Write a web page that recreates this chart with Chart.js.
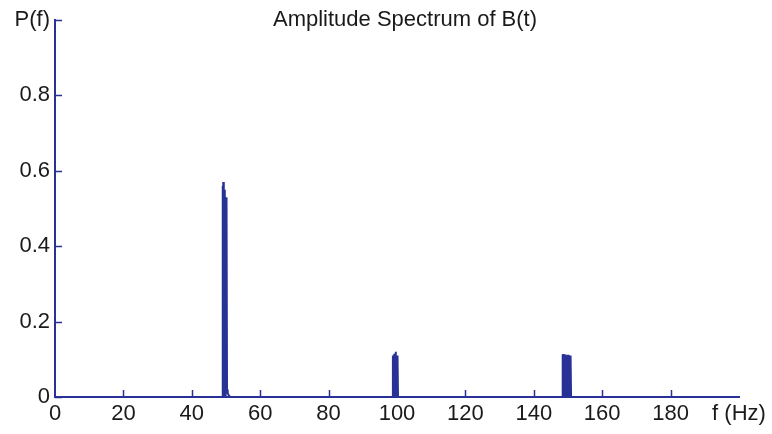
<!DOCTYPE html>
<html>
<head>
<meta charset="utf-8">
<script src="https://cdn.jsdelivr.net/npm/chart.js@4"></script>
<style>
    html, body { margin: 0; padding: 0; background: #fff; }
    #wrap { width: 772px; height: 434px; }
</style>
</head>
<body>
<div id="wrap"><canvas id="spectrum"></canvas></div>
<script>
// spectrum (frequency in Hz, amplitude P(f))
const freqHz = [
    0,
    48.9, 49.0, 49.1, 49.2, 49.3, 49.4, 49.5, 49.6, 49.7, 49.8, 49.9, 50.0, 50.1, 50.2, 50.3, 50.5, 50.9, 51.3,
    98.7, 98.8, 98.9, 99.0, 99.1, 99.2, 99.3, 99.4, 99.5, 99.6, 99.7, 99.8, 99.9, 100.0, 100.1, 100.2, 100.3,
    148.3, 148.4, 148.5, 148.6, 148.7, 148.8, 148.9, 149.0, 149.1, 149.2, 149.3, 149.4, 149.5, 149.6, 149.7,
    149.8, 149.9, 150.0, 150.1, 150.2, 150.3, 150.4, 150.5, 150.6, 150.7, 150.8, 150.9,
    200
];
const amplitude = [
    0,
    0, 0.56, 0, 0.57, 0, 0.57, 0, 0.55, 0.08, 0.53, 0, 0.53, 0.02, 0.53, 0.02, 0.01, 0.003, 0,
    0, 0.11, 0, 0.11, 0, 0.115, 0, 0.115, 0, 0.12, 0, 0.11, 0, 0.11, 0, 0.11, 0,
    0, 0.113, 0, 0.114, 0, 0.114, 0, 0.113, 0, 0.113, 0, 0.112, 0, 0.07, 0,
    0.11, 0, 0.112, 0, 0.11, 0, 0.11, 0, 0.11, 0, 0.11, 0,
    0
];
const xTicks = [0, 20, 40, 60, 80, 100, 120, 140, 160, 180, 200];
const yTicks = [0, 0.2, 0.4, 0.6, 0.8, 1.0];
const xAxisLabel = 'f (Hz)';
const yAxisLabel = 'P(f)';
const chartTitle = 'Amplitude Spectrum of B(t)';

const blue = 'rgb(40, 50, 150)';
const font = { family: '"Liberation Sans", Arial, sans-serif', size: 22 };

const points = freqHz.map((f, i) => ({ x: f, y: amplitude[i] }));

// inward tick marks + title drawn over the plot area
const innerTicks = {
    id: 'innerTicks',
    afterDraw(chart) {
        const c = chart.ctx;
        const xs = chart.scales.x, ys = chart.scales.y;
        const area = chart.chartArea;
        c.save();
        c.strokeStyle = blue;
        c.lineWidth = 1.5;
        c.beginPath();
        xTicks.slice(1, -1).forEach(v => {
            const px = Math.round(xs.getPixelForValue(v)) + 0.5;
            c.moveTo(px, area.bottom);
            c.lineTo(px, area.bottom - 7);
        });
        yTicks.forEach(v => {
            const py = Math.round(ys.getPixelForValue(v)) + 0.5;
            c.moveTo(area.left, py);
            c.lineTo(area.left + 7, py);
        });
        c.stroke();
        c.fillStyle = '#1a1a1a';
        c.font = font.size + 'px ' + font.family;
        c.textAlign = 'center';
        c.textBaseline = 'middle';
        c.fillText(chartTitle, (area.left + area.right) / 2 + 8, area.top);
        c.restore();
    }
};

new Chart(document.getElementById('spectrum'), {
    type: 'line',
    data: {
        datasets: [{
            data: points,
            borderColor: blue,
            borderWidth: 2,
            pointRadius: 0,
            tension: 0,
            fill: false
        }]
    },
    plugins: [innerTicks],
    options: {
        responsive: true,
        maintainAspectRatio: false,
        animation: false,
        layout: { padding: { top: 20, right: 33, left: 0, bottom: 0 } },
        plugins: {
            legend: { display: false },
            tooltip: { enabled: false },
            title: { display: false }
        },
        scales: {
            x: {
                type: 'linear',
                min: 0,
                max: 200,
                afterBuildTicks: s => { s.ticks = xTicks.map(v => ({ value: v })); },
                afterFit: s => { s.height = 37; },
                grid: { display: false, drawTicks: false },
                border: { display: true, color: blue, width: 2 },
                ticks: {
                    color: '#1a1a1a',
                    font: font,
                    padding: 4,
                    maxRotation: 0,
                    autoSkip: false,
                    callback: v => v === 200 ? xAxisLabel : String(v)
                }
            },
            y: {
                min: 0,
                max: 1,
                afterBuildTicks: s => { s.ticks = yTicks.map(v => ({ value: v })); },
                afterFit: s => { s.width = 55; },
                grid: { display: false, drawTicks: false },
                border: { display: true, color: blue, width: 2 },
                ticks: {
                    color: '#1a1a1a',
                    font: font,
                    padding: 5,
                    autoSkip: false,
                    callback: v => v === 1 ? yAxisLabel : String(Math.round(v * 10) / 10)
                }
            }
        }
    }
});
</script>
</body>
</html>
